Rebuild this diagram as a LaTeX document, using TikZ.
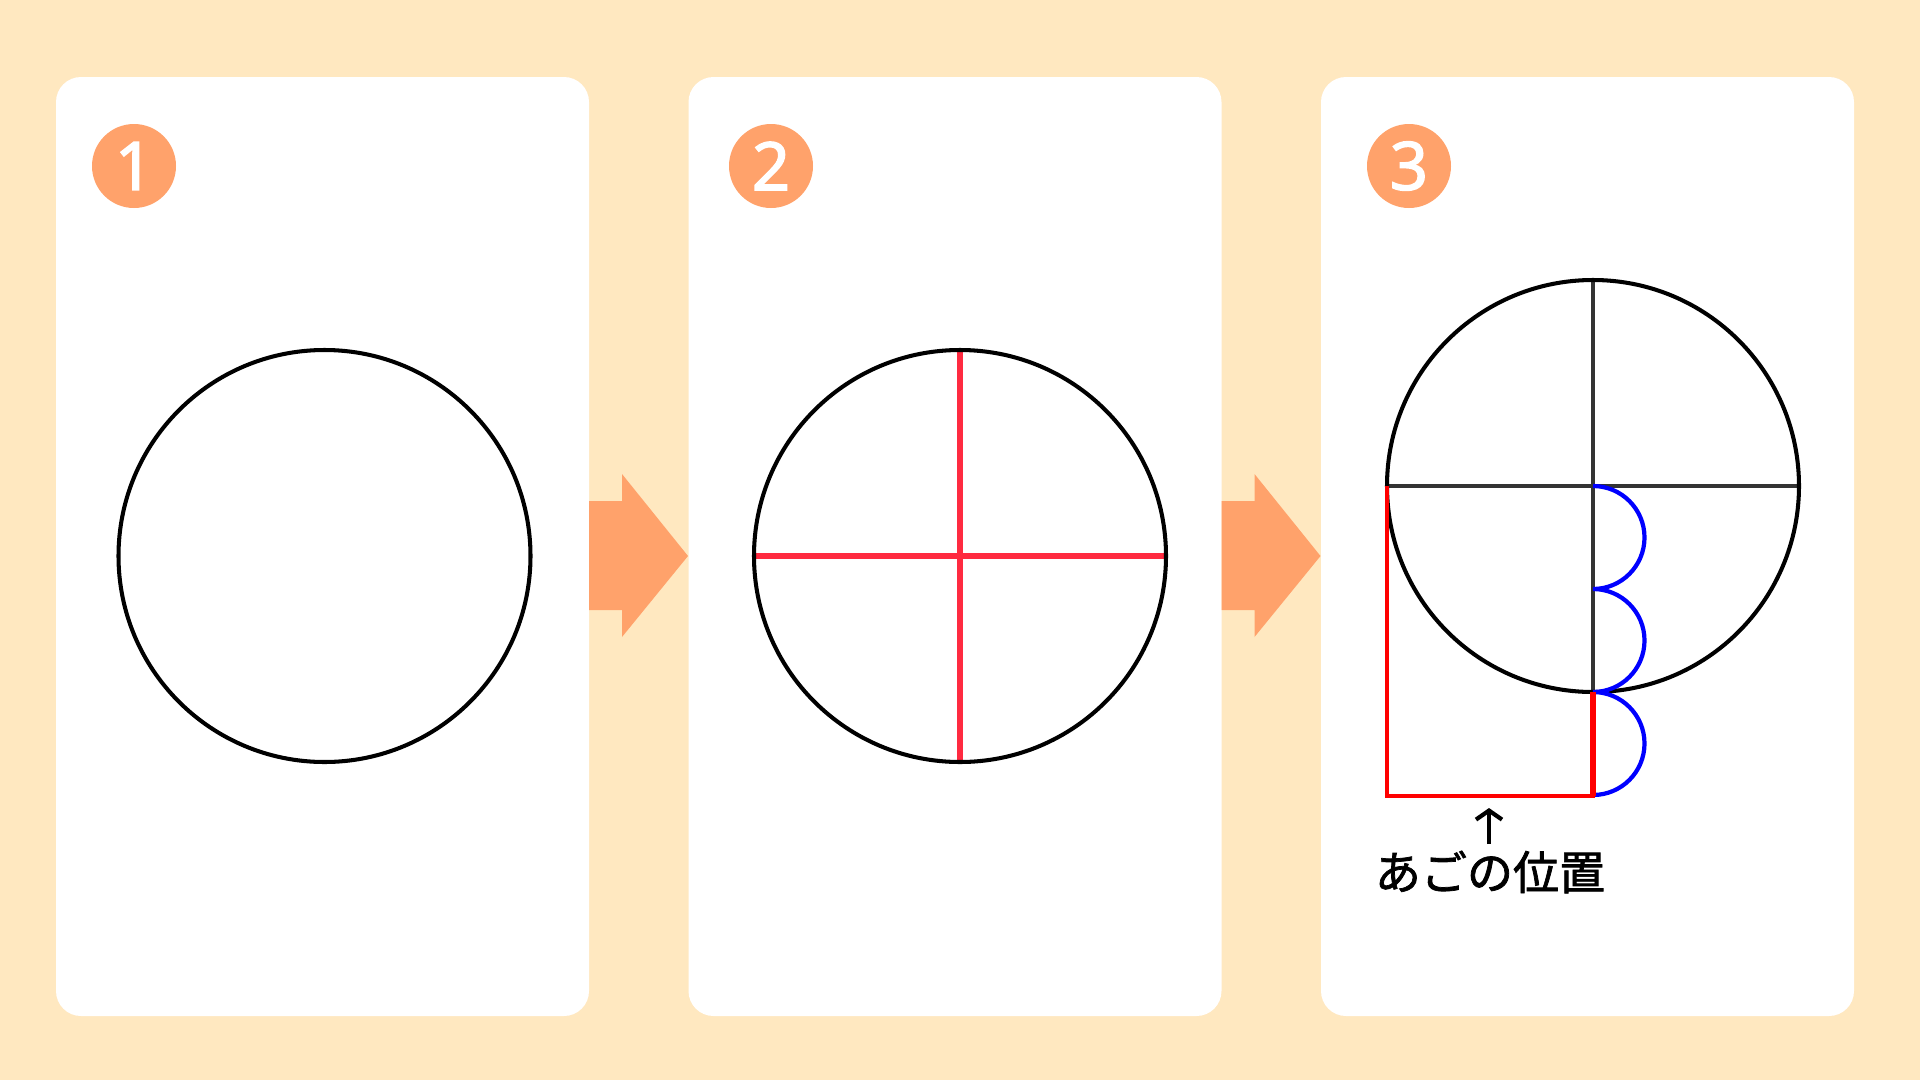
\documentclass[tikz,border=0pt]{standalone}
\usepackage{fontspec}
\newfontfamily\cjk[FakeBold=1.6]{Noto Sans CJK JP}
\newfontfamily\digits[FakeBold=2]{Noto Sans}
\usetikzlibrary{arrows.meta}
\definecolor{bgcream}{HTML}{FFE8C0}
\definecolor{steporange}{HTML}{FFA26B}
\definecolor{guidered}{HTML}{FF2A40}
\definecolor{axisgray}{HTML}{333333}
\tikzset{
  card/.style={fill=white, rounded corners=2.5mm},
  badge/.style={circle, fill=steporange, text=white, minimum size=8.4mm, inner sep=0pt,
    font=\digits\fontsize{19}{19}\selectfont},
  outline/.style={line width=1.15pt},
}
\begin{document}
\begin{tikzpicture}[x=0.1mm, y=0.1mm]
    \useasboundingbox (0,0) rectangle (1920,1080);
    \fill[bgcream] (0,0) rectangle (1920,1080);
    % cards
    \foreach \x in {56,688.5,1321}
        \fill[card] (\x,64) rectangle ++(533,939);
    % arrows between the cards
    \foreach \x in {589,1221.5}
        \fill[steporange] (\x,470) -- ++(33,0) -- ++(0,-27) -- ++(66,81)
            -- ++(-66,82) -- ++(0,-27) -- ++(-33,0) -- cycle;
    \node[badge] (one) at (134,914) {1};
    \node[badge] (two) at (771,914) {2};
    \node[badge] (three) at (1409,914) {3};
    % step 1
    \draw[outline] (324.5,524) circle (206);
    % step 2
    \draw[guidered, line width=1.5pt] (754,524) -- (1166,524);
    \draw[guidered, line width=1.5pt] (960,318) -- (960,730);
    \draw[outline] (960,524) circle (206);
    % step 3
    \draw[axisgray, line width=1.1pt] (1387,594) -- (1799,594);
    \draw[axisgray, line width=1.1pt] (1593,388) -- (1593,800);
    \draw[outline] (1593,594) circle (206);
    \draw[blue, line width=1.2pt] (1593,594) arc[start angle=90, end angle=-90, radius=51.5]
        arc[start angle=90, end angle=-90, radius=51.5]
        arc[start angle=90, end angle=-90, radius=51.5];
    \draw[red, line width=1.35pt] (1387,594) -- (1387,284) -- (1593,284) -- (1593,388);
    \draw[red, line width=1.9pt] (1593,284) -- (1593,388);
    \node[font=\cjk\fontsize{13.1}{15}\selectfont, inner sep=0pt] (chin) at (1490,208) {あごの位置};
    \coordinate (chinmark) at (1489,272);
    \draw[line width=1.2pt, shorten <=0.6mm, -{Straight Barb[length=0.9mm, width=2.6mm]}]
        (chin.north -| chinmark) -- (chinmark);
\end{tikzpicture}
\end{document}
